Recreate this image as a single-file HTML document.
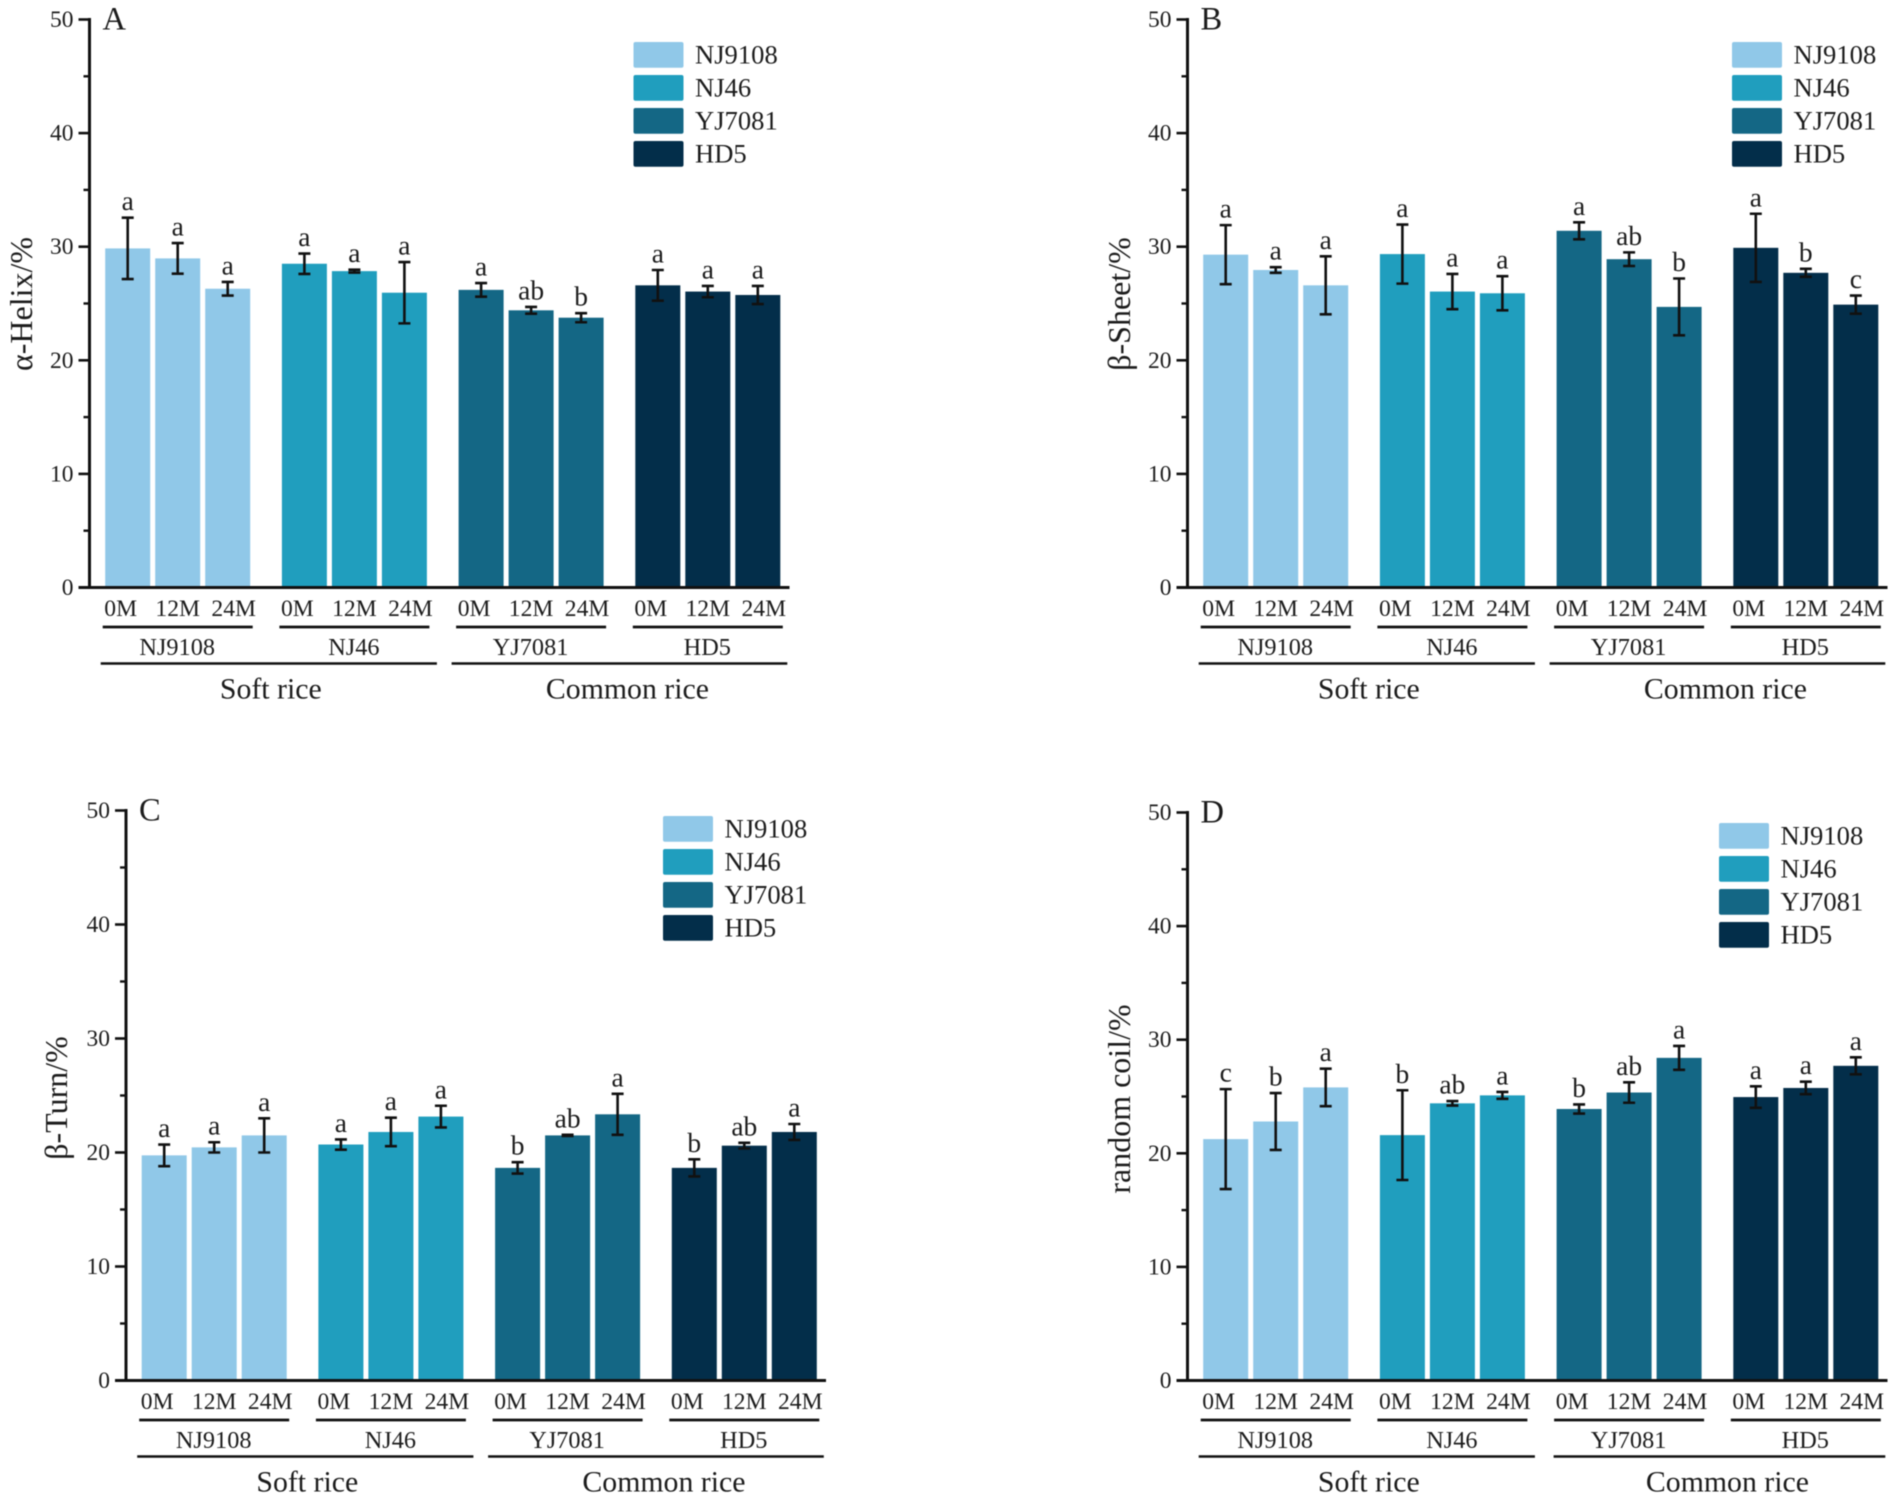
<!DOCTYPE html>
<html lang="en">
<head>
<meta charset="utf-8">
<title>Protein secondary structure of rice varieties</title>
<style>
html,body{margin:0;padding:0;background:#fff;}
#figure{display:block;width:1902px;height:1499px;filter:blur(0.55px);}
text{font-family:"Liberation Serif","DejaVu Serif",serif;fill:#1c1c1c;}
</style>
</head>
<body>
<svg id="figure" xmlns="http://www.w3.org/2000/svg" width="1902" height="1499" viewBox="0 0 1902 1499"></svg>
<script>
const varieties = ['NJ9108', 'NJ46', 'YJ7081', 'HD5'];
const storageTimes = ['0M', '12M', '24M'];
const riceTypes = ['Soft rice', 'Common rice'];
const yTickLabels = [0, 10, 20, 30, 40, 50];
const yMinorTicks = [5, 15, 25, 35, 45];

const helixValues = [29.85, 28.97, 26.3, 28.5, 27.85, 25.95, 26.2, 24.4, 23.75, 26.6, 26.05, 25.75];
const helixErrors = [2.7, 1.35, 0.6, 0.9, 0.13, 2.7, 0.6, 0.3, 0.4, 1.35, 0.5, 0.8];
const helixLetters = ['a', 'a', 'a', 'a', 'a', 'a', 'a', 'ab', 'b', 'a', 'a', 'a'];

const sheetValues = [29.3, 27.95, 26.6, 29.35, 26.05, 25.9, 31.4, 28.9, 24.7, 29.9, 27.7, 24.9];
const sheetErrors = [2.6, 0.25, 2.55, 2.6, 1.55, 1.5, 0.75, 0.6, 2.5, 3.0, 0.35, 0.8];
const sheetLetters = ['a', 'a', 'a', 'a', 'a', 'a', 'a', 'ab', 'b', 'a', 'b', 'c'];

const turnValues = [19.75, 20.45, 21.5, 20.7, 21.8, 23.15, 18.65, 21.5, 23.35, 18.65, 20.6, 21.8];
const turnErrors = [0.95, 0.45, 1.5, 0.45, 1.25, 0.95, 0.5, 0.05, 1.8, 0.75, 0.25, 0.7];
const turnLetters = ['a', 'a', 'a', 'a', 'a', 'a', 'b', 'ab', 'a', 'b', 'ab', 'a'];

const coilValues = [21.25, 22.8, 25.8, 21.6, 24.4, 25.1, 23.9, 25.35, 28.4, 24.95, 25.75, 27.7];
const coilErrors = [4.4, 2.5, 1.65, 3.95, 0.2, 0.3, 0.4, 0.9, 1.05, 0.95, 0.55, 0.75];
const coilLetters = ['c', 'b', 'a', 'b', 'ab', 'a', 'b', 'ab', 'a', 'a', 'a', 'a'];

const varietyColors = ['#90c8e8', '#209ebe', '#146785', '#032e4a'];

const charts = [
  { id: 'a', tag: 'A', title: '\u03b1-Helix/%', values: helixValues, errors: helixErrors, letters: helixLetters, axisX: 89.5, y0: 587.5, y50: 19.5, legendX: 633.5, legendY: 42, titleX: 22, titleY: 304, commonNudge: 0 },
  { id: 'b', tag: 'B', title: '\u03b2-Sheet/%', values: sheetValues, errors: sheetErrors, letters: sheetLetters, axisX: 1187.5, y0: 587.5, y50: 19.5, legendX: 1732, legendY: 42, titleX: 1120, titleY: 304, commonNudge: 0 },
  { id: 'c', tag: 'C', title: '\u03b2-Turn/%', values: turnValues, errors: turnErrors, letters: turnLetters, axisX: 126, y0: 1380.5, y50: 810.5, legendX: 663, legendY: 816, titleX: 57, titleY: 1098, commonNudge: 0 },
  { id: 'd', tag: 'D', title: 'random coil/%', values: coilValues, errors: coilErrors, letters: coilLetters, axisX: 1187.5, y0: 1380.5, y50: 812.5, legendX: 1719, legendY: 823, titleX: 1120, titleY: 1099, commonNudge: 4 }
];

const SVG_NS = 'http://www.w3.org/2000/svg';
const root = document.getElementById('figure');

function make(parent, tag, attrs, content) {
  const node = document.createElementNS(SVG_NS, tag);
  for (const key in attrs) node.setAttribute(key, attrs[key]);
  if (content !== undefined) node.textContent = content;
  parent.appendChild(node);
  return node;
}

function drawChart(chart) {
  const yScale = v => chart.y0 - (v / 50) * (chart.y0 - chart.y50);
  const barLeft = (g, t) => chart.axisX + 15.7 + g * 176.7 + t * 50;
  const barCenter = (g, t) => barLeft(g, t) + 22.5;
  const barWidth = 45;
  const tickNudge = [-7, 0, 6];

  const panel = make(root, 'g', {});
  
  

  varieties.forEach((variety, g) => {
    storageTimes.forEach((time, t) => {
      const i = g * 3 + t;
      const value = chart.values[i];
      const err = chart.errors[i];
      const slug = variety.toLowerCase() + '-' + time.toLowerCase();
      const bar = make(panel, 'rect', { x: barLeft(g, t), y: yScale(value), width: barWidth, height: chart.y0 - yScale(value), fill: varietyColors[g] });
      
      
      const cx = barCenter(g, t);
      const top = yScale(value + err);
      const bottom = yScale(value - err);
      const whisker = make(panel, 'path', { d: 'M' + (cx - 6) + ' ' + top + 'H' + (cx + 6) + 'M' + cx + ' ' + top + 'V' + bottom + 'M' + (cx - 6) + ' ' + bottom + 'H' + (cx + 6), fill: 'none', stroke: '#111', 'stroke-width': 2.6 });
      
      
      const letter = make(panel, 'text', { x: cx, y: top - 7.5, 'text-anchor': 'middle', 'font-size': 27.5 }, chart.letters[i]);
      
      
      const tickLabel = make(panel, 'text', { x: cx + tickNudge[t], y: chart.y0 + 28.5, 'text-anchor': 'middle', 'font-size': 23.6 }, time);
      
      
    });
    const rule = make(panel, 'line', { x1: barLeft(g, 0) - 2.5, x2: barLeft(g, 2) + barWidth + 2.5, y1: chart.y0 + 39.5, y2: chart.y0 + 39.5, stroke: '#111', 'stroke-width': 2.8 });
    
    
    const groupLabel = make(panel, 'text', { x: barCenter(g, 1) - 0.5, y: chart.y0 + 67.5, 'text-anchor': 'middle', 'font-size': 24.3 }, variety);
    
    
  });

  riceTypes.forEach((type, k) => {
    const first = k * 2;
    const left = barLeft(first, 0) + (k === 0 ? -4.5 : -7 + chart.commonNudge);
    const right = barLeft(first + 1, 2) + barWidth + (k === 0 ? 10 : 7);
    const slug = type.toLowerCase().replace(' ', '-');
    const rule = make(panel, 'line', { x1: left, x2: right, y1: chart.y0 + 76, y2: chart.y0 + 76, stroke: '#111', 'stroke-width': 2.4 });
    
    
    const label = make(panel, 'text', { x: (left + right) / 2 + (k === 0 ? 2 : 8), y: chart.y0 + 111, 'text-anchor': 'middle', 'font-size': 29.8 }, type);
    
    
  });

  const xAxis = make(panel, 'line', { x1: chart.axisX - 11, x2: chart.axisX + 700, y1: chart.y0, y2: chart.y0, stroke: '#111', 'stroke-width': 3 });
  
  
  const yAxis = make(panel, 'line', { x1: chart.axisX, x2: chart.axisX, y1: chart.y50 - 1.5, y2: chart.y0 + 1.5, stroke: '#111', 'stroke-width': 3 });
  
  

  yTickLabels.forEach(value => {
    if (value > 0) {
      const tick = make(panel, 'line', { x1: chart.axisX - 11, x2: chart.axisX, y1: yScale(value), y2: yScale(value), stroke: '#111', 'stroke-width': 2.6 });
      
      
    }
    const label = make(panel, 'text', { x: chart.axisX - 16, y: yScale(value) + 7.5, 'text-anchor': 'end', 'font-size': 23.5 }, value);
    
    
  });
  yMinorTicks.forEach(value => {
    const tick = make(panel, 'line', { x1: chart.axisX - 6, x2: chart.axisX, y1: yScale(value), y2: yScale(value), stroke: '#111', 'stroke-width': 2.4 });
    
    
  });

  const yTitle = make(panel, 'text', { x: 0, y: 0, transform: 'translate(' + (chart.titleX + 10) + ' ' + chart.titleY + ') rotate(-90)', 'text-anchor': 'middle', 'font-size': 32 }, chart.title);
  
  

  const tag = make(panel, 'text', { x: chart.axisX + 13, y: chart.y50 + 10, 'font-size': 32.5 }, chart.tag);
  
  

  varieties.forEach((variety, g) => {
    const y = chart.legendY + g * 33;
    const swatch = make(panel, 'rect', { x: chart.legendX, y: y, width: 50, height: 25.7, rx: 2, fill: varietyColors[g] });
    
    
    const label = make(panel, 'text', { x: chart.legendX + 61.5, y: y + 21.5, 'font-size': 26.6 }, variety);
    
    
  });
}

charts.forEach(drawChart);
</script>
</body>
</html>
